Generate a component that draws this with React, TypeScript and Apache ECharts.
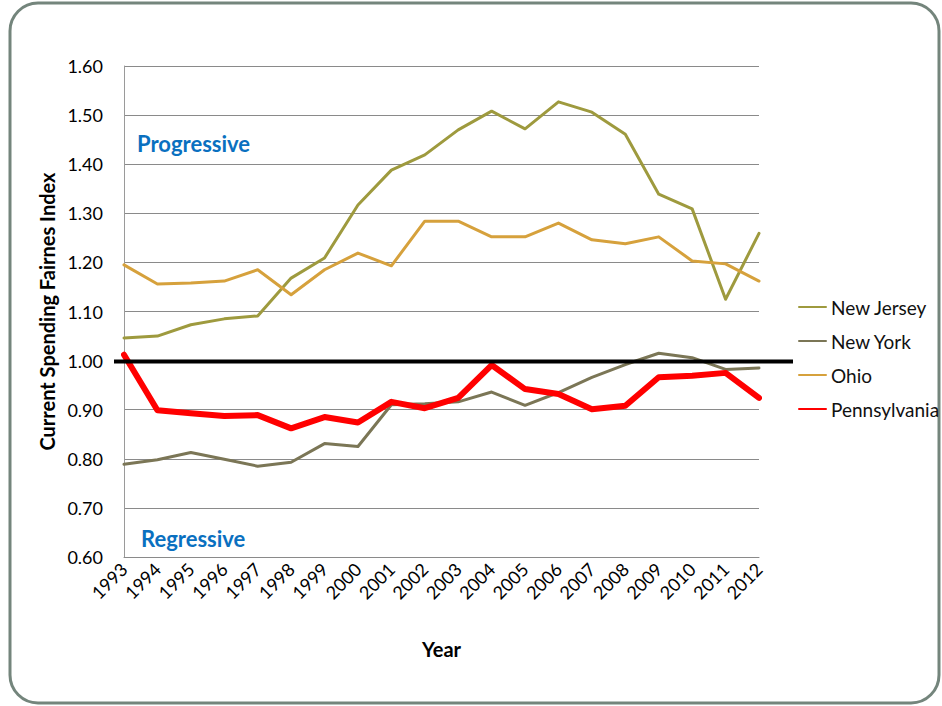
import React, { useEffect, useRef } from "react";
import * as echarts from "echarts";

const years = ["1993","1994","1995","1996","1997","1998","1999","2000","2001","2002","2003","2004","2005","2006","2007","2008","2009","2010","2011","2012"];
const newJersey = [1.046, 1.050, 1.073, 1.085, 1.091, 1.168, 1.209, 1.317, 1.388, 1.419, 1.470, 1.508, 1.472, 1.527, 1.506, 1.461, 1.339, 1.309, 1.125, 1.259];
const newYork = [0.789, 0.798, 0.813, 0.799, 0.785, 0.793, 0.831, 0.825, 0.910, 0.912, 0.916, 0.936, 0.909, 0.935, 0.966, 0.992, 1.015, 1.006, 0.982, 0.985];
const ohio = [1.195, 1.156, 1.158, 1.162, 1.185, 1.134, 1.185, 1.219, 1.193, 1.284, 1.284, 1.252, 1.252, 1.280, 1.246, 1.238, 1.252, 1.203, 1.197, 1.162];
const pennsylvania = [1.012, 0.899, 0.893, 0.887, 0.889, 0.862, 0.885, 0.874, 0.916, 0.903, 0.924, 0.991, 0.942, 0.932, 0.901, 0.908, 0.966, 0.969, 0.975, 0.924];
const parityValue = 1.0;

const FONT = "Lato, 'Open Sans', sans-serif";

export default function App() {
  const ref = useRef<HTMLDivElement>(null);
  useEffect(() => {
    if (!ref.current) return;
    const chart = echarts.init(ref.current, null, { renderer: "svg" });
    const mkSeries = (name: string, data: number[], color: string, width: number, z: number) => ({
      name,
      type: "line",
      data,
      symbol: "none",
      z,
      lineStyle: { color, width, cap: "round", join: "round" },
      itemStyle: { color },
    });
    chart.setOption({
      animation: false,
      backgroundColor: "#ffffff",
      textStyle: { fontFamily: FONT },
      grid: { left: 124, right: 183, top: 66, bottom: 149, containLabel: false },
      legend: {
        orient: "vertical",
        left: 793,
        top: 292,
        itemWidth: 27,
        itemHeight: 14,
        itemGap: 14,
        itemStyle: { opacity: 0 },
        textStyle: { fontFamily: FONT, fontSize: 19, color: "#111", lineHeight: 20 },
        data: ["New Jersey", "New York", "Ohio", "Pennsylvania"],
      },
      xAxis: {
        type: "category",
        data: years,
        boundaryGap: false,
        name: "Year",
        nameLocation: "middle",
        nameGap: 82,
        nameTextStyle: { fontFamily: FONT, fontSize: 20, fontWeight: "bold", color: "#000" },
        axisLine: { show: true, lineStyle: { color: "#8a8a8a", width: 1 } },
        axisTick: { show: false },
        splitLine: { show: false },
        axisLabel: { rotate: 45, fontFamily: FONT, fontSize: 18, color: "#000", margin: 9, interval: 0 },
      },
      yAxis: {
        type: "value",
        min: 0.6,
        max: 1.6,
        interval: 0.1,
        name: "Current Spending Fairnes Index",
        nameLocation: "middle",
        nameGap: 64,
        nameTextStyle: { fontFamily: FONT, fontSize: 20, fontWeight: "bold", color: "#000" },
        axisLine: { show: true, lineStyle: { color: "#9a9a9a", width: 1 } },
        axisTick: { show: false },
        splitLine: { show: true, lineStyle: { color: "#8a8a8a", width: 1 } },
        axisLabel: {
          fontFamily: FONT,
          fontSize: 18,
          color: "#000",
          margin: 21,
          formatter: (v: number) => v.toFixed(2),
        },
      },
      series: [
        mkSeries("New Jersey", newJersey, "#9e9a3e", 3, 2),
        mkSeries("New York", newYork, "#7b7656", 3, 3),
        mkSeries("Ohio", ohio, "#d6a13c", 3, 4),
        mkSeries("Pennsylvania", pennsylvania, "#ff0000", 6, 5),
      ],
    });

    const yLine = chart.convertToPixel({ yAxisIndex: 0 }, parityValue) as number;
    chart.setOption({
      graphic: [
        {
          type: "rect",
          id: "frame",
          shape: { x: 10, y: 3, width: 929, height: 700, r: 28 },
          style: { fill: "none", stroke: "#74857c", lineWidth: 3 },
          silent: true,
          z: 0,
        },
        {
          type: "line",
          id: "parity",
          shape: { x1: 114, y1: yLine + 1, x2: 793, y2: yLine + 1 },
          style: { stroke: "#000000", lineWidth: 4 },
          silent: true,
          z: 10,
        },
        {
          type: "text",
          id: "prog",
          left: 137,
          top: 132,
          style: { text: "Progressive", fill: "#0a70c0", font: `bold 22px ${FONT}` },
          z: 10,
        },
        {
          type: "text",
          id: "regr",
          left: 141,
          top: 527,
          style: { text: "Regressive", fill: "#0a70c0", font: `bold 22px ${FONT}` },
          z: 10,
        },
      ],
    });
    return () => chart.dispose();
  }, []);
  return (
    <div
      ref={ref}
      style={{ position: "absolute", left: 0, top: 0, width: 942, height: 706, background: "#fff" }}
    />
  );
}
